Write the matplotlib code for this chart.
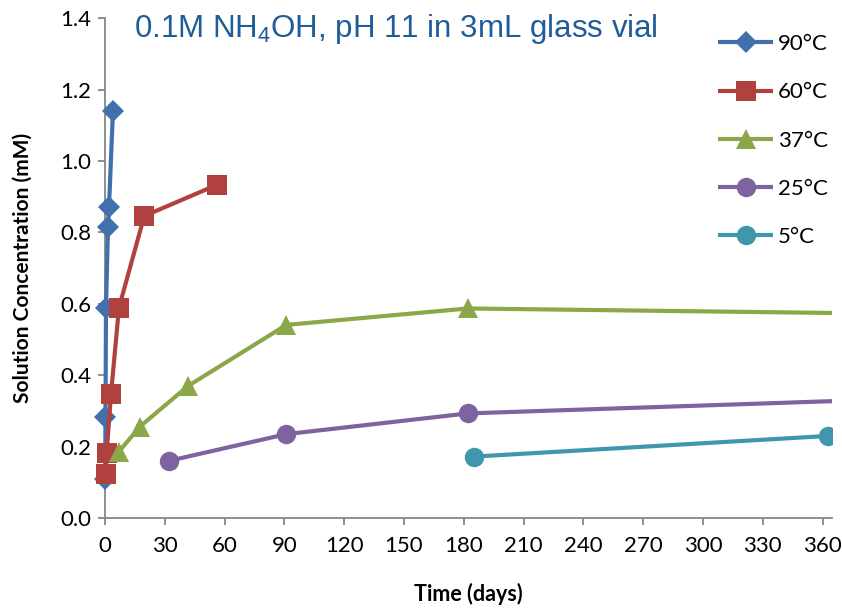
import matplotlib
matplotlib.use("Agg")
import matplotlib.pyplot as plt
from matplotlib.patches import Rectangle

# Konzentration in Loesung ueber der Zeit, je Temperatur
t_90 = [0.1, 0.25, 0.5, 1.5, 2.0, 4.0]
c_90 = [0.11, 0.284, 0.588, 0.815, 0.87, 1.141]

t_60 = [0.3, 0.8, 3.0, 7.0, 19.7, 56.0]
c_60 = [0.122, 0.181, 0.346, 0.589, 0.846, 0.933]

t_37 = [7.0, 17.5, 41.7, 91.0, 182.0, 400.0]
c_37 = [0.186, 0.256, 0.37, 0.541, 0.587, 0.572]

t_25 = [32.0, 91.0, 182.0, 400.0]
c_25 = [0.16, 0.235, 0.293, 0.334]

t_5 = [185.0, 363.0]
c_5 = [0.172, 0.23]

x_ticks = list(range(0, 361, 30))
y_ticks = [0.0, 0.2, 0.4, 0.6, 0.8, 1.0, 1.2, 1.4]

plt.rcParams['font.family'] = ['Lato', 'DejaVu Sans']
plt.rcParams['mathtext.fontset'] = 'custom'
plt.rcParams['mathtext.rm'] = 'Liberation Sans'
plt.rcParams['mathtext.it'] = 'Liberation Sans:italic'

fig = plt.figure(figsize=(8.42, 6.08), dpi=100)
ax = fig.add_axes([0.1247, 0.148, 0.864, 0.822])

serien = [
    (t_90, c_90, '90°C', '#4170AC', 'D', 11),
    (t_60, c_60, '60°C', '#B0413E', 's', 14),
    (t_37, c_37, '37°C', '#8BA74A', '^', 15),
    (t_25, c_25, '25°C', '#7F62A0', 'o', 14),
    (t_5, c_5, '5°C', '#3F97AE', 'o', 14),
]

# nur rechts abschneiden, Marker an der y-Achse sollen ganz sichtbar bleiben
clip = Rectangle((-0.1, -0.1), 1.1, 1.2, transform=ax.transAxes, visible=False)
ax.add_patch(clip)

for t, c, name, farbe, marker, ms in serien:
    ln, = ax.plot(t, c, color=farbe, lw=3.0, marker=marker, ms=ms,
                  markeredgewidth=0, label=name, solid_capstyle='butt')
    ln.set_clip_path(clip)

ax.set_xlim(0, 365)
ax.set_ylim(0, 1.4)
ax.set_xticks(x_ticks)
ax.set_yticks(y_ticks)
ax.set_yticklabels([f'{v:.1f}' for v in y_ticks])

for s in ['top', 'right']:
    ax.spines[s].set_visible(False)
for s in ['left', 'bottom']:
    ax.spines[s].set_color('#868686')
    ax.spines[s].set_linewidth(1.3)
    ax.spines[s].set_zorder(0.5)
ax.tick_params(axis='both', colors='#868686', length=5, width=1.3,
               labelcolor='black', labelsize=16, pad=5)
ax.tick_params(axis='x', pad=8)

ax.set_xlabel('Time (days)', fontsize=15.5, fontweight='bold', labelpad=19)
ax.set_ylabel('Solution Concentration (mM)', fontsize=15, fontweight='bold', labelpad=20)

ax.text(0.04, 1.012, r'0.1M NH$_\mathrm{4}$OH, pH 11 in 3mL glass vial', transform=ax.transAxes,
        color='#1F5C99', fontsize=22.5, family=['Liberation Sans', 'DejaVu Sans'],
        va='top', ha='left')

leg = ax.legend(loc='upper right', bbox_to_anchor=(1.012, 0.995), frameon=False,
                fontsize=16, handlelength=2.5, labelspacing=1.27, handletextpad=0.2,
                borderaxespad=0.2)

fig.savefig('out.png', dpi=100)
